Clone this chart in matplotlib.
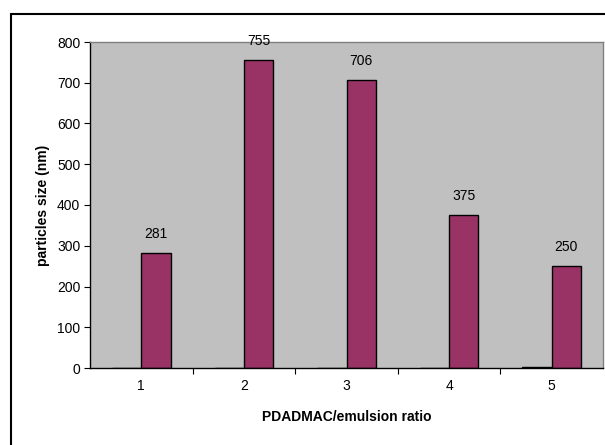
import matplotlib.pyplot as plt
from matplotlib.patches import Rectangle
import numpy as np

plt.rcParams["font.family"] = ["Liberation Sans", "DejaVu Sans"]

categories = ["1", "2", "3", "4", "5"]
series_a = [0, 0, 0, 0, 2]
series_b = [281, 755, 706, 375, 250]
y_ticks = [0, 100, 200, 300, 400, 500, 600, 700, 800]

fig = plt.figure(figsize=(6.05, 4.45), dpi=100)
ax = fig.add_axes([90 / 605, 1 - 368 / 445, 513 / 605, 326 / 445])

# outer chart frame (right and bottom edges run off the picture)
fig.patches.append(
    Rectangle((11 / 605, -0.1), 1.2, 1 - 14 / 445 + 0.1, transform=fig.transFigure,
              fill=False, edgecolor="black", linewidth=1.5)
)

x = np.arange(len(categories))
w = 0.2857
ax.set_facecolor("#C0C0C0")
ax.bar(x - w, series_a, width=w, align="edge", color="black", edgecolor="black", linewidth=1)
bars = ax.bar(x, series_b, width=w, align="edge", color="#993366", edgecolor="black", linewidth=1)

for xi, v in zip(x, series_b):
    ax.annotate(str(v), (xi + w / 2, v), xytext=(0, 14), textcoords="offset points",
                ha="center", va="center", fontsize=10)

ax.set_xlim(-0.5, len(categories) - 0.5)
ax.set_ylim(0, 800)
ax.set_yticks(y_ticks)
ax.set_xticks(x[:-1] + 0.5)
ax.set_xticklabels([])
ax.set_xticks(x, minor=True)
ax.set_xticklabels(categories, minor=True)
ax.tick_params(axis="x", which="minor", length=0, pad=8, labelsize=10)
ax.tick_params(axis="x", which="major", length=4, direction="out")
ax.tick_params(axis="y", length=4, direction="out", labelsize=10, pad=3)

for s in ["top", "right"]:
    ax.spines[s].set_color("#808080")
    ax.spines[s].set_linewidth(1)
ax.spines["left"].set_linewidth(1)
ax.spines["bottom"].set_linewidth(1)

ax.set_xlabel("PDADMAC/emulsion ratio", fontsize=10, fontweight="bold", labelpad=12)
ax.set_ylabel("particles size (nm)", fontsize=10, fontweight="bold", labelpad=5)

fig.savefig("out.png", dpi=100)
